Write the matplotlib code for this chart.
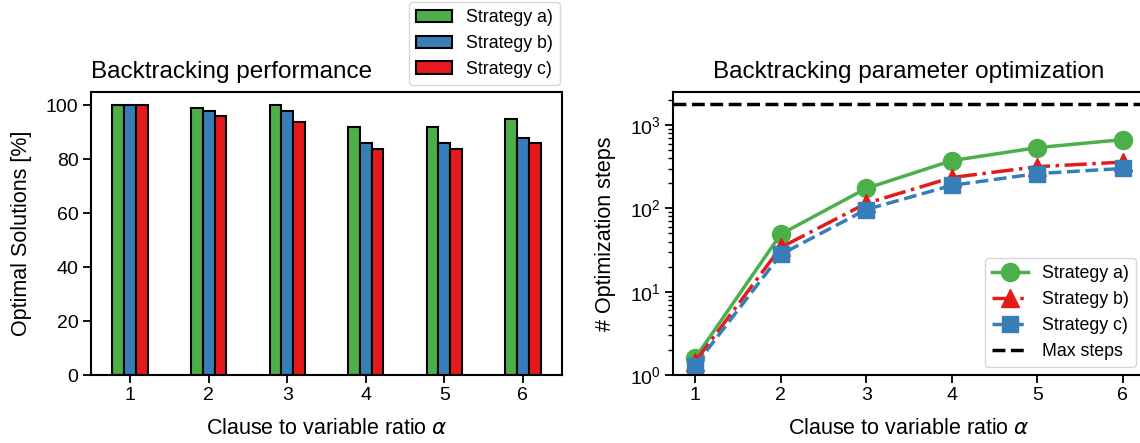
import matplotlib
matplotlib.use("Agg")
import matplotlib.pyplot as plt
import numpy as np

plt.rcParams['font.family'] = ['Liberation Sans', 'DejaVu Sans']
plt.rcParams['mathtext.fontset'] = 'dejavusans'

ratios = [1, 2, 3, 4, 5, 6]
strategies = ["Strategy a)", "Strategy b)", "Strategy c)"]
colors = ["#4daf4a", "#377eb8", "#e41a1c"]

optimal_a = [100, 99, 100, 92, 92, 95]
optimal_b = [100, 98, 98, 86, 86, 88]
optimal_c = [100, 96, 94, 84, 84, 86]

steps_a = [1.6, 49, 174, 375, 537, 670]
steps_b = [1.45, 34, 115, 235, 317, 360]
steps_c = [1.3, 28, 97, 189, 262, 302]
max_steps = 1780

fig = plt.figure(figsize=(11.4, 4.43), dpi=100)
ax1 = fig.add_axes([91/1140, 1-375/443, 471/1140, 283/443])
ax2 = fig.add_axes([673/1140, 1-375/443, 472/1140, 283/443])

TICK = 14
LAB = 15.5
TIT = 17.5
LEG = 12.8

x = np.array(ratios)
w = 0.15
bar_data = [optimal_a, optimal_b, optimal_c]
for i, (vals, c, lab) in enumerate(zip(bar_data, colors, strategies)):
    ax1.bar(x + (i - 1) * w, vals, width=w, color=c, edgecolor='black', linewidth=1.5, label=lab)
ax1.set_xticks(ratios)
ax1.set_ylabel("Optimal Solutions [%]", fontsize=LAB, labelpad=10)
ax1.set_xlabel(r"Clause to variable ratio $\alpha$", fontsize=LAB, labelpad=10)
ax1.set_title("Backtracking performance", fontsize=TIT, loc='left', pad=10)
ax1.tick_params(labelsize=TICK, width=1.3, length=5.5)
for s in ax1.spines.values():
    s.set_linewidth(1.5)
fig.legend(*ax1.get_legend_handles_labels(), loc='upper right',
           bbox_to_anchor=(560/1140, 1-2/443), bbox_transform=fig.transFigure,
           borderaxespad=0, fontsize=LEG)

ax2.plot(ratios, steps_a, '-o', color=colors[0], lw=2.5, ms=13, label=strategies[0])
ax2.plot(ratios, steps_b, '-.^', color=colors[2], lw=2.5, ms=13, label=strategies[1])
ax2.plot(ratios, steps_c, '--s', color=colors[1], lw=2.5, ms=12, label=strategies[2])
ax2.axhline(max_steps, color='black', ls='--', lw=2.5, label='Max steps')
ax2.set_yscale('log')
ax2.set_ylim(1, 2500)
ax2.set_xlim(0.74, 6.26)
ax2.set_xticks(ratios)
ax2.set_ylabel("# Optimization steps", fontsize=LAB, labelpad=10)
ax2.set_xlabel(r"Clause to variable ratio $\alpha$", fontsize=LAB, labelpad=10)
ax2.set_title("Backtracking parameter optimization", fontsize=TIT, pad=10)
ax2.tick_params(labelsize=TICK, width=1.3, length=5.5)
ax2.tick_params(which='minor', width=1.0, length=3.5)
for s in ax2.spines.values():
    s.set_linewidth(1.5)
ax2.legend(loc='lower right', bbox_to_anchor=(1136/1140, 1-367/443),
           bbox_transform=fig.transFigure, borderaxespad=0, fontsize=LEG)

fig.savefig("out.png", dpi=100)
